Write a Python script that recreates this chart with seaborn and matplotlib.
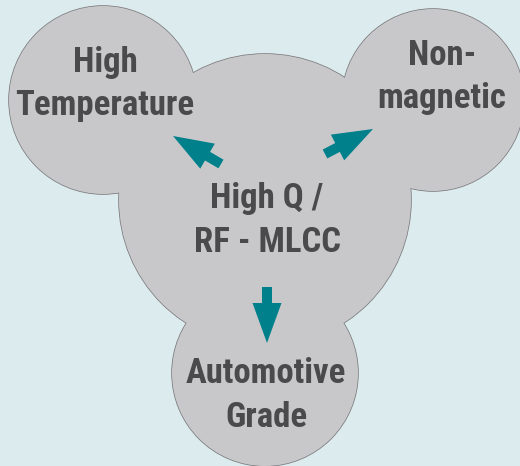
import matplotlib
matplotlib.use("Agg")
import matplotlib.pyplot as plt
from matplotlib.patches import Circle, FancyArrow
from matplotlib import font_manager
import seaborn as sns

# bubble labels (two lines each)
labels = [
    ["High", "Temperature"],
    ["Non-", "magnetic"],
    ["High Q /", "RF - MLCC"],
    ["Automotive", "Grade"],
]

# layout in pixel space (x right, y down)
centers = [(103, 100), (433, 100), (265, 200), (265, 373)]
radii = [94, 91, 146, 93]
text_x = [105, 442, 267, 266]
text_y = [(72, 115), (65, 108), (208, 252), (383, 427)]

# arrows: (tail_x, tail_y, tip_x, tip_y)
arrows = [(221, 164, 173, 136), (325, 154, 373, 129), (267, 287, 267, 343)]

bg = "#dcebee"
fill = "#c8c8ca"
edge = "#7a7a7c"
teal = "#00808b"
txt = "#4a4a4c"

sns.set_style("white")
names = {f.name for f in font_manager.fontManager.ttflist}
wanted = ["Roboto Condensed", "Fira Sans Condensed", "Barlow Semi Condensed", "Archivo Narrow"]
family = [n for n in wanted if n in names][:1] + ["DejaVu Sans"]
plt.rcParams["font.family"] = family
size = 25 if len(family) > 1 else 17

fig = plt.figure(figsize=(5.2, 4.66), dpi=100, facecolor=bg)
ax = fig.add_axes([0, 0, 1, 1])
ax.set_facecolor(bg)
ax.set_xlim(0, 520)
ax.set_ylim(466, 0)
ax.set_aspect("equal")
ax.axis("off")

# outline first, then fill on top so only the outer edge shows
for (cx, cy), r in zip(centers, radii):
    ax.add_patch(Circle((cx, cy), r, facecolor=fill, edgecolor=edge, lw=1.1, zorder=1))
for (cx, cy), r in zip(centers, radii):
    ax.add_patch(Circle((cx, cy), r, facecolor=fill, edgecolor="none", zorder=2))

for x0, y0, x1, y1 in arrows:
    ax.add_patch(FancyArrow(x0, y0, x1 - x0, y1 - y0, width=10, head_width=29,
                            head_length=40, length_includes_head=True,
                            color=teal, lw=0, zorder=3))

for lines, x, ys in zip(labels, text_x, text_y):
    for line, y in zip(lines, ys):
        ax.text(x, y, line, ha="center", va="baseline", fontsize=size,
                fontweight="bold", color=txt, zorder=4)

fig.savefig("out.png", dpi=100, facecolor=bg)
